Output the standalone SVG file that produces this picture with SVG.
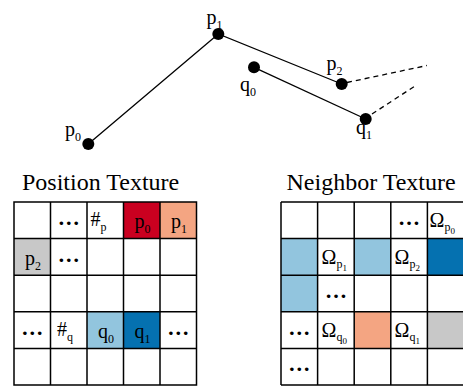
<svg xmlns="http://www.w3.org/2000/svg" width="463" height="387" viewBox="0 0 463 387">
<style>
text{font-family:"Liberation Serif","Times New Roman",serif;fill:#000}
.lbl{font-size:20px}
.sub{font-size:12px}
.sub2{font-size:9px}
.title{font-size:24px}
.dots{font-size:22px;font-weight:bold;text-anchor:middle}
.grid{fill:none;stroke:#000;stroke-width:1.5}
.edge{stroke:#000;stroke-width:1.3;fill:none}
.dash{stroke:#000;stroke-width:1.3;fill:none;stroke-dasharray:5 4}
.pt{fill:#000}
.r1{fill:#ca0020}.r2{fill:#f4a582}.b1{fill:#92c5de}.b2{fill:#0571b0}.g{fill:#c8c8c8}
</style>
<rect width="463" height="387" fill="#fff"/>
<g id="connectors">
<polyline class="edge" points="88.3,144 218.3,34 341.7,84"/>
<line class="edge" x1="254" y1="67.3" x2="365.7" y2="119"/>
<line class="dash" x1="347" y1="82.5" x2="427" y2="65.5"/>
<line class="dash" x1="372" y1="114" x2="415" y2="86"/>
</g>
<g id="node-p0"><circle class="pt" cx="88.3" cy="144" r="6"/><text class="lbl" x="65" y="136">p<tspan class="sub" dy="5">0</tspan></text></g>
<g id="node-p1"><circle class="pt" cx="218.3" cy="34" r="6"/><text class="lbl" x="206.5" y="24">p<tspan class="sub" dy="5">1</tspan></text></g>
<g id="node-p2"><circle class="pt" cx="341.7" cy="84" r="6"/><text class="lbl" x="326.5" y="70">p<tspan class="sub" dy="5">2</tspan></text></g>
<g id="node-q0"><circle class="pt" cx="254" cy="67.3" r="6"/><text class="lbl" x="240" y="90.5">q<tspan class="sub" dy="5">0</tspan></text></g>
<g id="node-q1"><circle class="pt" cx="365.7" cy="119" r="6"/><text class="lbl" x="356" y="134">q<tspan class="sub" dy="5">1</tspan></text></g>
<g id="position-texture">
<text class="title" x="22" y="190">Position Texture</text>
<rect class="r1" x="123.5" y="202" width="36.5" height="36.6"/>
<rect class="r2" x="160" y="202" width="36.5" height="36.6"/>
<rect class="g" x="14" y="238.6" width="36.5" height="36.6"/>
<rect class="b1" x="87" y="311.8" width="36.5" height="36.6"/>
<rect class="b2" x="123.5" y="311.8" width="36.5" height="36.6"/>
<path class="grid" d="M14,202H196.5V385H14Z M50.5,202V385 M87,202V385 M123.5,202V385 M160,202V385 M14,238.6H196.5 M14,275.2H196.5 M14,311.8H196.5 M14,348.4H196.5"/>
<text class="dots" x="68.7" y="225">…</text>
<text class="lbl" x="90.5" y="226">#<tspan class="sub" dy="5">p</tspan></text>
<text class="lbl" x="134.5" y="228">p<tspan class="sub" dy="5">0</tspan></text>
<text class="lbl" x="171" y="228">p<tspan class="sub" dy="5">1</tspan></text>
<text class="lbl" x="25" y="264.6">p<tspan class="sub" dy="5">2</tspan></text>
<text class="dots" x="68.7" y="261.6">…</text>
<text class="dots" x="32.2" y="334.8">…</text>
<text class="lbl" x="57" y="335.8">#<tspan class="sub" dy="5">q</tspan></text>
<text class="lbl" x="98" y="337.8">q<tspan class="sub" dy="5">0</tspan></text>
<text class="lbl" x="134.5" y="337.8">q<tspan class="sub" dy="5">1</tspan></text>
<text class="dots" x="178.2" y="334.8">…</text>
</g>
<g id="neighbor-texture">
<text class="title" x="286.5" y="190">Neighbor Texture</text>
<rect class="b1" x="281" y="238.6" width="36.6" height="36.6"/>
<rect class="b1" x="354.2" y="238.6" width="36.6" height="36.6"/>
<rect class="b2" x="427.4" y="238.6" width="36.6" height="36.6"/>
<rect class="b1" x="281" y="275.2" width="36.6" height="36.6"/>
<rect class="r2" x="354.2" y="311.8" width="36.6" height="36.6"/>
<rect class="g" x="427.4" y="311.8" width="36.6" height="36.6"/>
<path class="grid" d="M281,202H470 M281,385H470 M281,202V385 M317.6,202V385 M354.2,202V385 M390.8,202V385 M427.4,202V385 M281,238.6H470 M281,275.2H470 M281,311.8H470 M281,348.4H470"/>
<text class="dots" x="409.1" y="225">…</text>
<text class="lbl" x="429.5" y="227">Ω<tspan class="sub" dy="4">p</tspan><tspan class="sub2" dy="3">0</tspan></text>
<text class="lbl" x="321.5" y="263.6">Ω<tspan class="sub" dy="4">p</tspan><tspan class="sub2" dy="3">1</tspan></text>
<text class="lbl" x="394.5" y="263.6">Ω<tspan class="sub" dy="4">p</tspan><tspan class="sub2" dy="3">2</tspan></text>
<text class="dots" x="335.9" y="298.2">…</text>
<text class="dots" x="299.3" y="334.8">…</text>
<text class="lbl" x="321.5" y="336.8">Ω<tspan class="sub" dy="4">q</tspan><tspan class="sub2" dy="3">0</tspan></text>
<text class="lbl" x="394.5" y="336.8">Ω<tspan class="sub" dy="4">q</tspan><tspan class="sub2" dy="3">1</tspan></text>
<text class="dots" x="299.3" y="371.4">…</text>
</g>
</svg>
